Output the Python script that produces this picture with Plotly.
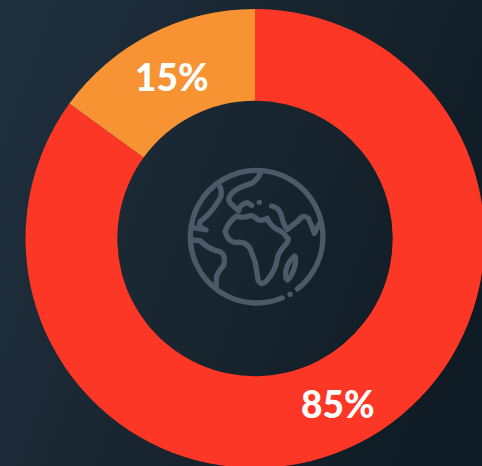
import base64
import plotly.graph_objects as go

labels = ["Rest", "Share"]
values = [85, 15]
colors = ["#FC3725", "#F89333"]

W, H = 490, 470

bg_svg = f'''<svg xmlns="http://www.w3.org/2000/svg" width="{W}" height="{H}" viewBox="0 0 {W} {H}">
<defs><linearGradient id="g" x1="0" y1="0.25" x2="1" y2="0.6">
<stop offset="0" stop-color="#1F2E3D"/><stop offset="0.5" stop-color="#18252F"/><stop offset="1" stop-color="#0F1B24"/>
</linearGradient></defs><rect width="{W}" height="{H}" fill="url(#g)"/></svg>'''

globe_svg = '''<svg xmlns="http://www.w3.org/2000/svg" width="510" height="510" viewBox="0 0 510 510">
<g fill="none" stroke="#4C5966" stroke-width="16" stroke-linecap="round" stroke-linejoin="round">
<path d="M336.5 443.7 A199 199 0 1 1 382.5 416.8"/>
<path d="M272 68 Q262 90 245 100 Q205 112 190 125 Q170 145 180 158 L206 182 Q212 160 232 158 L245 166"/>
<path d="M305 168 Q325 172 333 192 Q340 225 352 238 L385 212 Q400 190 415 205 Q425 225 433 250 L450 218"/>
<path d="M240 197 Q215 205 200 198 Q175 215 165 245 Q172 272 195 278 Q225 272 240 295 L255 335 Q262 370 264 390 Q275 410 290 392 Q318 360 322 325 Q326 305 350 280 Q360 265 350 262 Q340 245 320 238 Q300 225 292 205 Q275 215 262 208 Q250 195 240 197 Z"/>
<path d="M150 110 Q158 130 150 145 Q125 190 90 215 L88 232 L108 240 L65 232"/>
<path d="M65 270 L90 272 Q115 298 150 305 Q168 315 162 345 Q145 365 140 378 L138 412"/>
<path d="M374 318 Q380 330 374 350 Q366 380 352 390 Q344 385 348 360 Q354 335 374 318 Z"/>
</g>
<g fill="#4C5966"><circle cx="268" cy="157" r="8"/><circle cx="360" cy="433" r="8"/></g>
</svg>'''


def uri(svg):
    return "data:image/svg+xml;base64," + base64.b64encode(svg.encode()).decode()


fig = go.Figure(
    go.Pie(
        labels=labels,
        values=values,
        hole=0.6,
        sort=False,
        direction="clockwise",
        rotation=0,
        marker=dict(colors=colors, line=dict(width=0)),
        textinfo="none",
        showlegend=False,
        hoverinfo="skip",
        domain=dict(x=[25.5 / W, 484.5 / W], y=[(H - 468) / H, (H - 9) / H]),
    )
)
label_font = dict(family="Lato", size=37, color="white", weight=900)
fig.update_layout(
    width=W,
    height=H,
    margin=dict(l=0, r=0, t=0, b=0),
    paper_bgcolor="#18252F",
    annotations=[
        dict(text=f"{values[1]}%", xref="paper", yref="paper", x=172 / W, y=1 - 76 / H,
             xanchor="center", yanchor="middle", showarrow=False, font=label_font),
        dict(text=f"{values[0]}%", xref="paper", yref="paper", x=338 / W, y=1 - 403.5 / H,
             xanchor="center", yanchor="middle", showarrow=False, font=label_font),
    ],
    images=[
        dict(source=uri(bg_svg), xref="paper", yref="paper", x=0, y=1, sizex=1, sizey=1,
             xanchor="left", yanchor="top", sizing="stretch", layer="below"),
        dict(source=uri(globe_svg), xref="paper", yref="paper", x=170 / W, y=1 - 150 / H,
             sizex=170 / W, sizey=170 / H, xanchor="left", yanchor="top", sizing="stretch", layer="above"),
    ],
)
fig.write_html(
    "out.html",
    config={"displayModeBar": False},
    post_script="document.documentElement.style.overflow='hidden';document.body.style.overflow='hidden';document.body.style.margin='0';",
)
